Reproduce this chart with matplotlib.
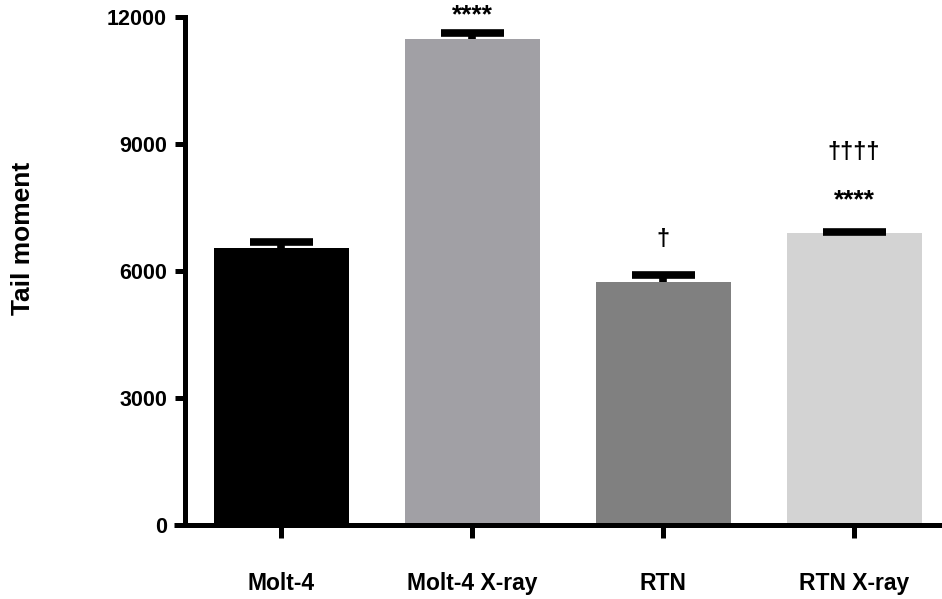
import matplotlib
matplotlib.use("Agg")
import matplotlib.pyplot as plt
import numpy as np

groups = ["Molt-4", "Molt-4 X-ray", "RTN", "RTN X-ray"]
means = [6545, 11470, 5745, 6905]
sems = [140, 150, 170, 10]
colors = ["#000000", "#a1a0a5", "#808080", "#d3d3d3"]

# significance marks: (group index, label, y level)
marks = [
    (1, "****", 12050),
    (2, "\u2020", 6740),
    (3, "****", 7680),
    (3, "\u2020\u2020\u2020\u2020", 8810),
]

yticks = [0, 3000, 6000, 9000, 12000]

plt.rcParams["font.family"] = ["Liberation Sans", "DejaVu Sans"]
plt.rcParams["font.weight"] = "bold"

fig = plt.figure(figsize=(9.42, 5.99), dpi=100)
ax = fig.add_axes([0.1964, 0.1235, 0.8036, 0.8481])

x = np.arange(len(groups))
ax.bar(x, means, width=0.707, color=colors, zorder=2)

# one-sided (upper) error bars, Prism style
tops = np.array(means) + np.array(sems)
ax.vlines(x, means, tops, color="black", linewidth=5.5, zorder=3)
ax.hlines(tops, x - 0.165, x + 0.165, color="black", linewidth=5.5, zorder=3)

for i, label, y in marks:
    size = 19 if label.startswith("*") else 17
    ax.text(i, y, label, ha="center", va="center", fontsize=size,
            fontweight="bold", clip_on=False)

ax.set_xlim(-0.503, 3.46)
ax.set_ylim(0, 12000)
ax.set_xticks(x)
ax.set_xticklabels(groups, fontsize=16.5, fontweight="bold")
ax.set_yticks(yticks)
ax.set_yticklabels([str(v) for v in yticks], fontsize=15.5, fontweight="bold")
ax.set_ylabel("Tail moment", fontsize=19, fontweight="bold")
ax.yaxis.set_label_coords(-0.198, 0.565)

for side in ["top", "right"]:
    ax.spines[side].set_visible(False)
for side in ["left", "bottom"]:
    ax.spines[side].set_linewidth(3.6)
ax.spines["bottom"].set_bounds(-0.56, 3.46)
ax.spines["bottom"].set_capstyle("butt")
ax.tick_params(axis="y", length=7, width=3.6, pad=6)
ax.tick_params(axis="x", length=9, width=3.6, pad=25)

fig.savefig("out.png", dpi=100)
